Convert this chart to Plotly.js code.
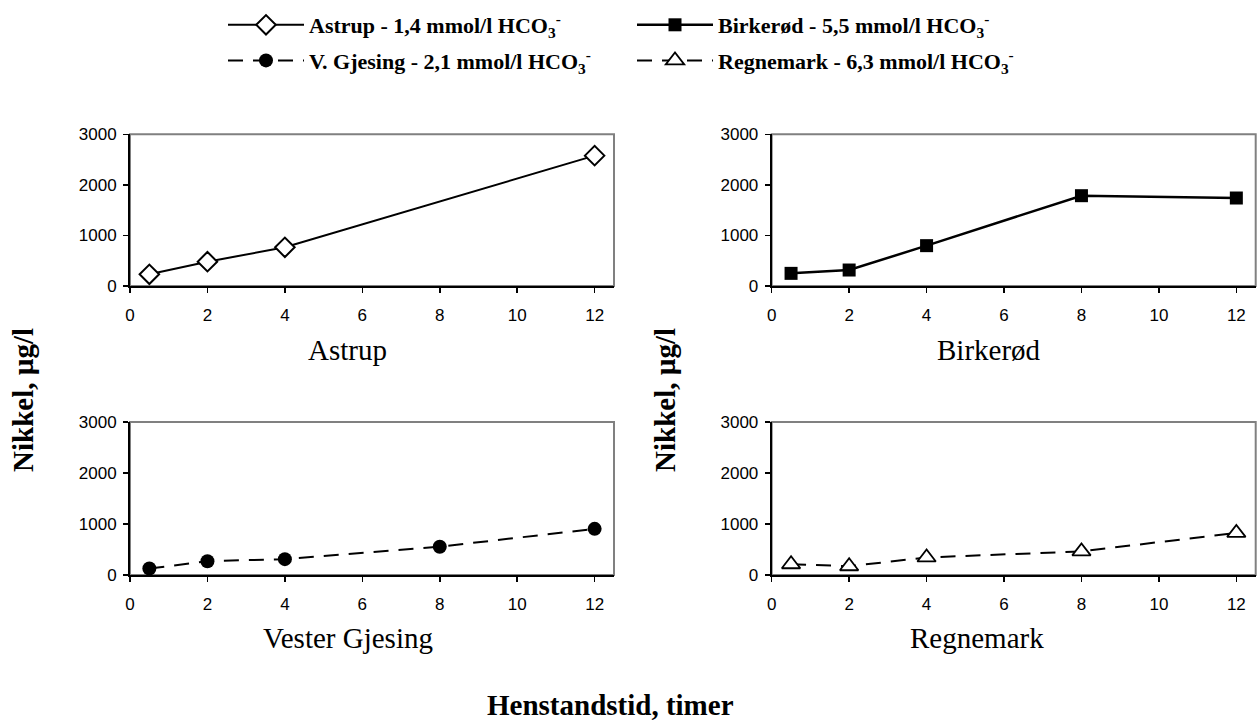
<!DOCTYPE html>
<html><head><meta charset="utf-8">
<script src="https://cdn.plot.ly/plotly-3.0.1.min.js"></script>
<style>body{margin:0;background:#fff}#c{width:1260px;height:720px}</style>
</head><body><div id="c"></div>
<script>
const astrupX = [0.5, 2, 4, 12];
const astrupY = [231, 481, 765, 2578];
const birkerodX = [0.5, 2, 4, 8, 12];
const birkerodY = [250, 316, 798, 1786, 1740];
const gjesingX = [0.5, 2, 4, 8, 12];
const gjesingY = [126, 271, 311, 555, 905];
const regnemarkX = [0.5, 2, 4, 8, 12];
const regnemarkY = [211, 172, 344, 463, 826];
const seriesNames = [
  "Astrup - 1,4 mmol/l HCO<sub>3</sub><sup>-</sup>",
  "Birkerød - 5,5 mmol/l HCO<sub>3</sub><sup>-</sup>",
  "V. Gjesing - 2,1 mmol/l HCO<sub>3</sub><sup>-</sup>",
  "Regnemark - 6,3 mmol/l HCO<sub>3</sub><sup>-</sup>"
];
const panelTitles = ["Astrup", "Birkerød", "Vester Gjesing", "Regnemark"];
const yTitle = "Nikkel, µg/l";
const xTitle = "Henstandstid, timer";

const serif = "Liberation Serif, Times New Roman, serif";
const sans = "Liberation Sans, Arial, sans-serif";

const traces = [
  {x: astrupX, y: astrupY, xaxis: 'x', yaxis: 'y', name: seriesNames[0], legend: 'legend', legendgroup: 'a',
   mode: 'lines+markers', line: {color: '#000', width: 2},
   marker: {symbol: 'diamond', size: 15, color: '#fff', line: {color: '#000', width: 2}}, cliponaxis: false},
  {x: gjesingX, y: gjesingY, xaxis: 'x3', yaxis: 'y3', name: seriesNames[2], legend: 'legend', legendgroup: 'b',
   mode: 'lines+markers', line: {color: '#000', width: 2, dash: '15px,10px'},
   marker: {symbol: 'circle', size: 14, color: '#000'}, cliponaxis: false},
  {x: birkerodX, y: birkerodY, xaxis: 'x2', yaxis: 'y2', name: seriesNames[1], legend: 'legend2', legendgroup: 'c',
   mode: 'lines+markers', line: {color: '#000', width: 2.5},
   marker: {symbol: 'square', size: 13, color: '#000'}, cliponaxis: false},
  {x: regnemarkX, y: regnemarkY, xaxis: 'x4', yaxis: 'y4', name: seriesNames[3], legend: 'legend2', legendgroup: 'd',
   mode: 'lines+markers', line: {color: '#000', width: 2, dash: '15px,10px'},
   marker: {symbol: 'triangle-up', size: 16, color: '#fff', line: {color: '#000', width: 1.8}}, cliponaxis: false}
];

const xDomL = [130/1260, 614/1260], xDomR = [771.7/1260, 1255.7/1260];
const yDomT = [1-286/720, 1-134.3/720], yDomB = [1-575/720, 1-422/720];

function xa(dom, anchor) {
  return {domain: dom, anchor: anchor, range: [0, 12.5], dtick: 2, tick0: 0, showgrid: false, zeroline: false,
    showline: true, linecolor: '#000', linewidth: 2, ticks: 'outside', ticklen: 5, tickwidth: 1.5, tickcolor: '#000',
    ticklabelstandoff: 8,
    tickfont: {family: sans, size: 17, color: '#000'}, fixedrange: true};
}
function ya(dom, anchor) {
  return {domain: dom, anchor: anchor, range: [0, 3000], dtick: 1000, showgrid: false, zeroline: false,
    showline: true, linecolor: '#000', linewidth: 2, ticks: 'outside', ticklen: 5, tickwidth: 1.5, tickcolor: '#000',
    ticklabelstandoff: 3,
    tickfont: {family: sans, size: 17, color: '#000'}, fixedrange: true};
}

const shapes = [['x','y'],['x2','y2'],['x3','y3'],['x4','y4']].map(([xr, yr]) => ({
  type: 'rect', xref: xr + ' domain', yref: yr + ' domain', x0: 0, x1: 1, y0: 0, y1: 1,
  line: {color: '#808080', width: 2}, layer: 'below'
}));

function ann(text, xpx, ypx, size, bold, angle) {
  return {text: bold ? '<b>' + text + '</b>' : text, xref: 'paper', yref: 'paper',
    x: xpx/1260, y: 1 - ypx/720, showarrow: false, xanchor: 'center', yanchor: 'middle',
    textangle: angle || 0, font: {family: serif, size: size, color: '#000'}};
}

const annotations = [
  ann(panelTitles[0], 347, 350, 29),
  ann(panelTitles[1], 989, 350, 29),
  ann(panelTitles[2], 348, 638, 29),
  ann(panelTitles[3], 977, 638, 29),
  ann(yTitle, 23, 400, 29, true, -90),
  ann(yTitle, 665, 400, 29, true, -90),
  ann(xTitle, 610, 705, 29, true)
];

const legFont = {family: serif, size: 22, color: '#000', weight: 'bold'};
const layout = {
  width: 1260, height: 720, margin: {l: 0, r: 0, t: 0, b: 0},
  paper_bgcolor: '#fff', plot_bgcolor: '#fff', showlegend: true,
  xaxis: xa(xDomL, 'y'), yaxis: ya(yDomT, 'x'),
  xaxis2: xa(xDomR, 'y2'), yaxis2: ya(yDomT, 'x2'),
  xaxis3: xa(xDomL, 'y3'), yaxis3: ya(yDomB, 'x3'),
  xaxis4: xa(xDomR, 'y4'), yaxis4: ya(yDomB, 'x4'),
  shapes: shapes, annotations: annotations,
  legend: {x: 223/1260, y: 1 - 4/720, xanchor: 'left', yanchor: 'top', orientation: 'v',
    font: legFont, bgcolor: 'rgba(0,0,0,0)', itemwidth: 76, tracegroupgap: 4, itemclick: false},
  legend2: {x: 632/1260, y: 1 - 4/720, xanchor: 'left', yanchor: 'top', orientation: 'v',
    font: legFont, bgcolor: 'rgba(0,0,0,0)', itemwidth: 76, tracegroupgap: 4, itemclick: false}
};

Plotly.newPlot('c', traces, layout, {displayModeBar: false, staticPlot: true});
</script>
</body></html>
